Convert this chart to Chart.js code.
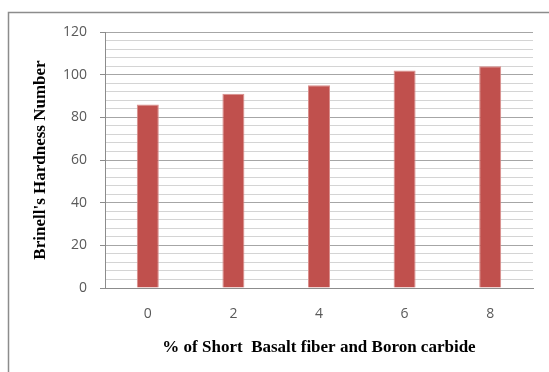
<!DOCTYPE html>
<html>
<head>
<meta charset="utf-8">
<title>Brinell's Hardness Number</title>
<script src="https://cdn.jsdelivr.net/npm/chart.js@4"></script>
<style>
  html, body { margin: 0; padding: 0; background: #fff; }
  #chart { display: block; }
</style>
</head>
<body>
<canvas id="chart" width="549" height="372"></canvas>
<script>
// data
const categories = ["0", "2", "4", "6", "8"];
const hardness = [86, 91, 95, 102, 104];
const yTicks = [0, 20, 40, 60, 80, 100, 120];

const isMajor = v => yTicks.includes(v);

// outer frame of the chart (only left and top edges are inside the picture)
const framePlugin = {
    id: "frame",
    beforeDraw(chart) {
        const ctx = chart.ctx;
        ctx.save();
        ctx.fillStyle = "#fff";
        ctx.fillRect(0, 0, chart.width, chart.height);
        ctx.strokeStyle = "#8c8c8c";
        ctx.lineWidth = 1.5;
        ctx.beginPath();
        ctx.moveTo(8.5, chart.height + 10);
        ctx.lineTo(8.5, 12.5);
        ctx.lineTo(chart.width + 10, 12.5);
        ctx.stroke();
        ctx.restore();
    }
};

new Chart(document.getElementById("chart"), {
    type: "bar",
    data: {
        labels: categories,
        datasets: [{
            data: hardness,
            backgroundColor: "#c0504d",
            borderColor: "#d98e8c",
            borderWidth: 1,
            barPercentage: 0.257,
            categoryPercentage: 1
        }]
    },
    options: {
        responsive: false,
        animation: false,
        layout: { padding: { top: 32, right: 16, left: 0, bottom: 0 } },
        plugins: { legend: { display: false }, tooltip: { enabled: false } },
        scales: {
            x: {
                grid: { display: false, drawTicks: false },
                border: { display: true, color: "#8c8c8c" },
                ticks: {
                    color: "#595959",
                    padding: 18,
                    font: { family: "'Open Sans', 'Liberation Sans', sans-serif", size: 14 }
                },
                title: {
                    display: true,
                    text: "% of Short  Basalt fiber and Boron carbide",
                    color: "#000",
                    font: { family: "'Liberation Serif', serif", size: 17, weight: "bold" },
                    padding: { bottom: 14 }
                },
                afterFit(scale) { scale.height = 84; }
            },
            y: {
                min: 0,
                max: 120,
                ticks: {
                    stepSize: 4,
                    autoSkip: false,
                    color: "#595959",
                    padding: 13,
                    font: { family: "'Open Sans', 'Liberation Sans', sans-serif", size: 14 },
                    callback: v => (isMajor(v) ? v : "")
                },
                grid: {
                    tickLength: 5,
                    color: ctx => (isMajor(ctx.tick.value) ? "#a6a6a6" : "#d4d4d4"),
                    tickColor: ctx => (isMajor(ctx.tick.value) ? "#8c8c8c" : "rgba(0,0,0,0)")
                },
                border: { display: true, color: "#8c8c8c" },
                title: {
                    display: true,
                    text: "Brinell's Hardness Number",
                    color: "#000",
                    font: { family: "'Liberation Serif', serif", size: 17, weight: "bold" },
                    padding: { top: 30 }
                },
                afterFit(scale) { scale.width = 105; }
            }
        }
    },
    plugins: [framePlugin]
});
</script>
</body>
</html>
